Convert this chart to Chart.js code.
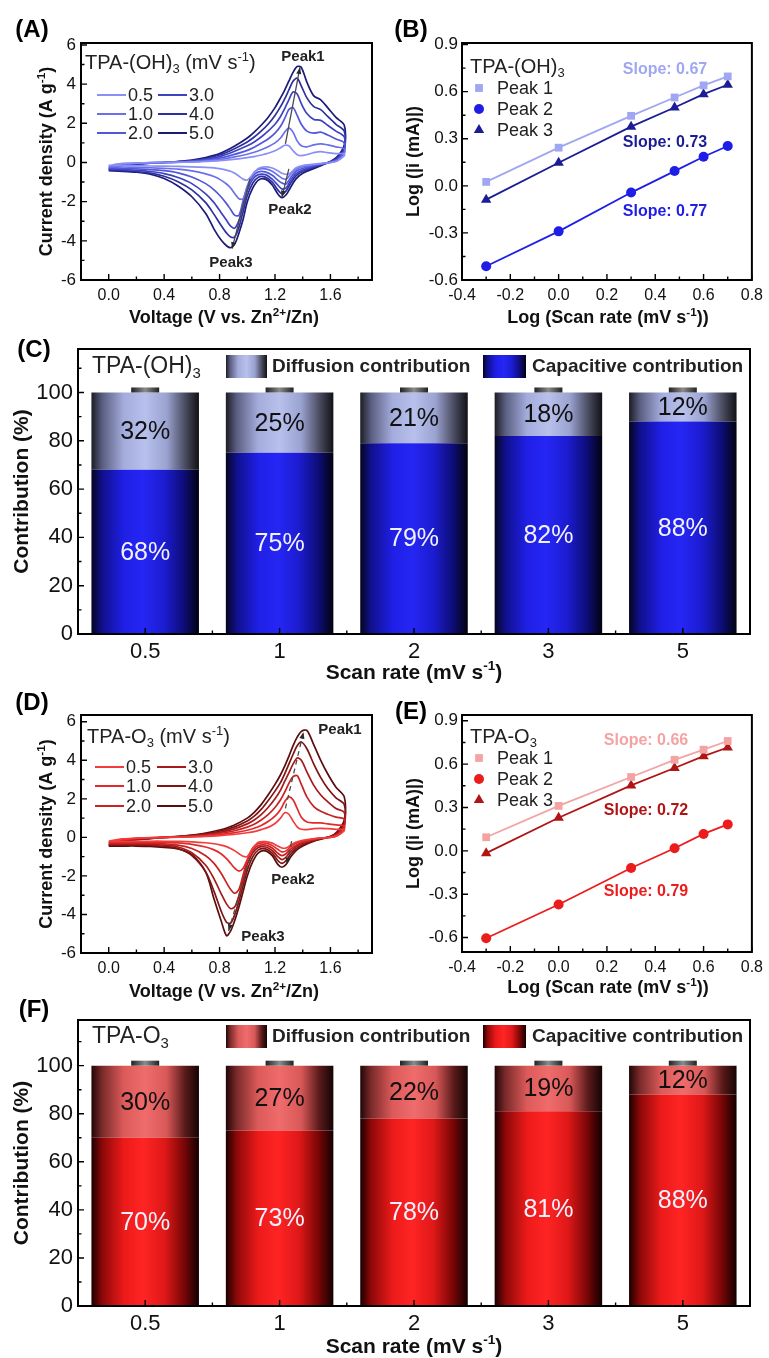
<!DOCTYPE html>
<html>
<head>
<meta charset="utf-8">
<script src="https://cdn.jsdelivr.net/npm/chart.js@4.4.1/dist/chart.umd.min.js"></script>
<style>
  html, body { margin: 0; padding: 0; background: #fff; }
  #page { position: relative; width: 769px; height: 1358px; overflow: hidden; background: #fff; }
  #page canvas { position: absolute; display: block; }
</style>
</head>
<body>
<div id="page">
  <canvas id="chartA" width="385" height="335" style="left:0;top:0"></canvas>
  <canvas id="chartB" width="384" height="335" style="left:385px;top:0"></canvas>
  <canvas id="chartC" width="769" height="365" style="left:0;top:325px"></canvas>
  <canvas id="chartD" width="385" height="315" style="left:0;top:690px"></canvas>
  <canvas id="chartE" width="384" height="315" style="left:385px;top:690px"></canvas>
  <canvas id="chartF" width="769" height="368" style="left:0;top:990px"></canvas>
</div>
<script>
(function () {
    'use strict';

    const FONT = "'Liberation Sans', Arial, Helvetica, sans-serif";

    // ---------- CV data (A, D) ----------
    const scanRateLabels = ['0.5', '1.0', '2.0', '3.0', '4.0', '5.0'];
    const vForward = [0, 0.1, 0.2, 0.3, 0.4, 0.5, 0.6, 0.7, 0.8, 0.9, 1.0, 1.05, 1.1, 1.15, 1.2,
        1.24, 1.27, 1.30, 1.33, 1.36, 1.39, 1.43, 1.48, 1.53, 1.58, 1.64, 1.7];
    const vReverse = [1.7, 1.65, 1.6, 1.5, 1.4, 1.35, 1.31, 1.28, 1.25, 1.22, 1.18, 1.13, 1.08, 1.04, 1.0,
        0.97, 0.94, 0.91, 0.88, 0.85, 0.81, 0.76, 0.7, 0.6, 0.5, 0.4, 0.3, 0.2, 0.1, 0];

    // TPA-(OH)3, anodic sweep
    const ohFwd05 = [-0.15, -0.05, -0.03, -0.01, 0, 0.01, 0.02, 0.05, 0.09, 0.16, 0.25, 0.3, 0.38, 0.47, 0.6, 0.75, 0.88, 0.85, 0.6, 0.4, 0.35, 0.4, 0.5, 0.55, 0.5, 0.45, 0.45];
    const ohFwd10 = [-0.2, -0.07, -0.04, -0.01, 0, 0.02, 0.04, 0.08, 0.15, 0.27, 0.42, 0.52, 0.65, 0.8, 1.0, 1.25, 1.55, 1.75, 1.55, 1.1, 0.85, 0.8, 0.9, 0.95, 0.9, 0.8, 0.7];
    const ohFwd20 = [-0.25, -0.09, -0.05, -0.02, 0, 0.02, 0.06, 0.12, 0.22, 0.4, 0.62, 0.78, 0.98, 1.2, 1.5, 1.85, 2.25, 2.7, 2.8, 2.4, 1.95, 1.6, 1.5, 1.55, 1.4, 1.2, 1.0];
    const ohFwd30 = [-0.3, -0.11, -0.06, -0.02, 0, 0.03, 0.08, 0.16, 0.3, 0.55, 0.85, 1.05, 1.3, 1.6, 1.95, 2.35, 2.75, 3.2, 3.6, 3.5, 3.0, 2.5, 2.2, 2.15, 1.9, 1.6, 1.3];
    const ohFwd40 = [-0.35, -0.13, -0.07, -0.03, 0, 0.04, 0.1, 0.2, 0.38, 0.68, 1.05, 1.3, 1.6, 1.95, 2.4, 2.85, 3.25, 3.7, 4.15, 4.3, 3.9, 3.3, 2.85, 2.7, 2.35, 1.95, 1.6];
    const ohFwd50 = [-0.4, -0.15, -0.08, -0.03, 0, 0.05, 0.12, 0.25, 0.45, 0.8, 1.25, 1.55, 1.9, 2.3, 2.8, 3.3, 3.7, 4.15, 4.6, 4.9, 4.85, 4.1, 3.4, 3.2, 2.8, 2.3, 1.9];
    // TPA-(OH)3, cathodic sweep
    const ohRev05 = [0.35, 0.08, 0, -0.07, -0.16, -0.28, -0.55, -0.6, -0.55, -0.42, -0.28, -0.22, -0.3, -0.6, -0.9, -0.85, -0.7, -0.55, -0.45, -0.39, -0.33, -0.28, -0.25, -0.22, -0.2, -0.19, -0.18, -0.17, -0.16, -0.15];
    const ohRev10 = [0.45, 0.1, 0, -0.1, -0.22, -0.36, -0.62, -0.85, -0.8, -0.65, -0.45, -0.33, -0.35, -0.6, -1.2, -1.85, -1.85, -1.6, -1.3, -1.1, -0.9, -0.72, -0.58, -0.43, -0.34, -0.3, -0.27, -0.25, -0.23, -0.22];
    const ohRev20 = [0.55, 0.15, 0.02, -0.12, -0.3, -0.46, -0.8, -1.1, -1.05, -0.9, -0.65, -0.48, -0.48, -0.7, -1.25, -1.95, -2.7, -2.7, -2.4, -2.1, -1.75, -1.4, -1.08, -0.74, -0.53, -0.42, -0.36, -0.33, -0.3, -0.28];
    const ohRev30 = [0.65, 0.2, 0.03, -0.16, -0.38, -0.58, -0.95, -1.3, -1.35, -1.15, -0.85, -0.62, -0.62, -0.85, -1.45, -2.2, -2.95, -3.35, -3.25, -2.95, -2.55, -2.05, -1.6, -1.08, -0.77, -0.57, -0.46, -0.4, -0.36, -0.34];
    const ohRev40 = [0.75, 0.25, 0.04, -0.2, -0.45, -0.7, -1.1, -1.45, -1.6, -1.4, -1.0, -0.75, -0.75, -1.05, -1.7, -2.5, -3.3, -3.8, -3.8, -3.6, -3.2, -2.65, -2.05, -1.4, -0.98, -0.7, -0.54, -0.46, -0.41, -0.38];
    const ohRev50 = [0.9, 0.3, 0.05, -0.25, -0.55, -0.85, -1.3, -1.65, -1.8, -1.6, -1.15, -0.85, -0.9, -1.3, -2.0, -2.9, -3.6, -4.15, -4.35, -4.25, -3.95, -3.4, -2.6, -1.75, -1.2, -0.82, -0.6, -0.5, -0.45, -0.42];

    // TPA-O3, anodic sweep
    const oFwd05 = [-0.2, -0.08, -0.04, -0.01, 0, 0.01, 0.03, 0.05, 0.09, 0.15, 0.24, 0.3, 0.4, 0.52, 0.72, 1.0, 1.28, 1.2, 0.85, 0.55, 0.42, 0.4, 0.45, 0.47, 0.45, 0.42, 0.4];
    const oFwd10 = [-0.25, -0.1, -0.05, -0.02, 0, 0.02, 0.04, 0.08, 0.14, 0.23, 0.37, 0.47, 0.62, 0.82, 1.1, 1.45, 1.85, 2.1, 1.95, 1.5, 1.05, 0.8, 0.75, 0.75, 0.7, 0.65, 0.6];
    const oFwd20 = [-0.3, -0.12, -0.07, -0.03, 0, 0.02, 0.06, 0.11, 0.2, 0.33, 0.53, 0.68, 0.9, 1.18, 1.55, 1.95, 2.35, 2.8, 3.15, 3.2, 2.75, 2.1, 1.6, 1.35, 1.2, 1.05, 0.95];
    const oFwd30 = [-0.35, -0.15, -0.08, -0.04, 0, 0.03, 0.08, 0.15, 0.26, 0.43, 0.7, 0.9, 1.18, 1.55, 2.0, 2.45, 2.9, 3.35, 3.8, 4.12, 4.0, 3.4, 2.7, 2.2, 1.85, 1.5, 1.3];
    const oFwd40 = [-0.4, -0.18, -0.1, -0.05, 0, 0.04, 0.1, 0.18, 0.32, 0.52, 0.85, 1.1, 1.45, 1.9, 2.4, 2.85, 3.3, 3.8, 4.3, 4.75, 4.95, 4.6, 3.8, 3.1, 2.55, 2.05, 1.7];
    const oFwd50 = [-0.45, -0.2, -0.12, -0.06, 0, 0.05, 0.12, 0.22, 0.38, 0.62, 1.0, 1.3, 1.7, 2.2, 2.75, 3.25, 3.7, 4.2, 4.75, 5.2, 5.5, 5.55, 4.8, 4.0, 3.3, 2.6, 2.1];
    // TPA-O3, cathodic sweep
    const oRev05 = [0.35, 0.08, 0, -0.05, -0.15, -0.25, -0.42, -0.55, -0.55, -0.45, -0.3, -0.22, -0.25, -0.55, -1.0, -0.98, -0.85, -0.7, -0.58, -0.48, -0.4, -0.33, -0.28, -0.23, -0.21, -0.2, -0.2, -0.2, -0.2, -0.2];
    const oRev10 = [0.45, 0.1, 0, -0.06, -0.2, -0.32, -0.5, -0.7, -0.75, -0.62, -0.42, -0.3, -0.32, -0.55, -1.15, -1.6, -1.75, -1.6, -1.35, -1.1, -0.85, -0.65, -0.5, -0.36, -0.29, -0.26, -0.25, -0.25, -0.25, -0.25];
    const oRev20 = [0.55, 0.15, 0.02, -0.08, -0.26, -0.42, -0.62, -0.85, -0.95, -0.82, -0.55, -0.4, -0.42, -0.65, -1.2, -1.95, -2.7, -2.9, -2.7, -2.35, -1.85, -1.35, -0.95, -0.58, -0.4, -0.34, -0.31, -0.3, -0.3, -0.3];
    const oRev30 = [0.65, 0.2, 0.03, -0.1, -0.32, -0.5, -0.75, -1.02, -1.15, -1.0, -0.68, -0.5, -0.52, -0.8, -1.4, -2.2, -3.0, -3.6, -3.7, -3.45, -2.9, -2.15, -1.45, -0.8, -0.5, -0.4, -0.37, -0.36, -0.35, -0.35];
    const oRev40 = [0.75, 0.25, 0.04, -0.12, -0.38, -0.6, -0.9, -1.2, -1.35, -1.2, -0.82, -0.6, -0.65, -1.0, -1.7, -2.5, -3.3, -4.0, -4.45, -4.4, -3.8, -2.8, -1.8, -0.95, -0.58, -0.46, -0.42, -0.41, -0.4, -0.4];
    const oRev50 = [0.9, 0.3, 0.05, -0.15, -0.45, -0.7, -1.05, -1.4, -1.55, -1.4, -0.95, -0.7, -0.8, -1.25, -2.0, -2.8, -3.6, -4.3, -4.85, -5.1, -4.3, -3.2, -1.8, -0.9, -0.6, -0.52, -0.47, -0.45, -0.45, -0.45];

    // peak-shift guide lines [V start, I start, V end, I end]
    const peakShiftOH = [[1.275, 0.95, 1.38, 4.85], [1.30, -0.33, 1.25, -1.77], [1.02, -0.83, 0.89, -4.4]];
    const peakShiftO = [[1.275, 1.5, 1.405, 5.45], [1.32, -0.2, 1.285, -1.4], [1.02, -1.05, 0.865, -4.85]];

    const cvXTicks = [0, 0.4, 0.8, 1.2, 1.6];
    const cvYTicks = [-6, -4, -2, 0, 2, 4, 6];

    // ---------- log(i) vs log(v) data (B, E) ----------
    const logRate = [-0.30, 0.00, 0.30, 0.48, 0.60, 0.70];
    const ohPeak1 = [0.025, 0.243, 0.446, 0.563, 0.64, 0.697];
    const ohPeak2 = [-0.512, -0.29, -0.043, 0.094, 0.185, 0.254];
    const ohPeak3 = [-0.088, 0.147, 0.377, 0.499, 0.584, 0.644];
    const oPeak1 = [0.094, 0.311, 0.511, 0.63, 0.70, 0.76];
    const oPeak2 = [-0.605, -0.371, -0.119, 0.018, 0.117, 0.183];
    const oPeak3 = [-0.016, 0.229, 0.453, 0.573, 0.655, 0.715];
    // slope of each peak (Peak 1, Peak 2, Peak 3)
    const slopesOH = ['0.67', '0.77', '0.73'];
    const slopesO = ['0.66', '0.79', '0.72'];
    const logXTicks = [-0.4, -0.2, 0, 0.2, 0.4, 0.6, 0.8];
    const logYTicks = [-0.6, -0.3, 0, 0.3, 0.6, 0.9];

    // ---------- contribution data (C, F) ----------
    const rateCats = ['0.5', '1', '2', '3', '5'];
    const ohCapacitive = [68, 75, 79, 82, 88];
    const ohDiffusion = [32, 25, 21, 18, 12];
    const oCapacitive = [70, 73, 78, 81, 88];
    const oDiffusion = [30, 27, 22, 19, 12];
    const pctTicks = [0, 20, 40, 60, 80, 100];

    // ---------- styles ----------
    const blueLines = ['#8a8ff5', '#6b70ea', '#5257d9', '#3d42bf', '#2c2f9f', '#1b1b78'];
    const redLines = ['#f23b3b', '#e32a2a', '#c82222', '#a51a1a', '#7e1414', '#5a0d0d'];
    const bluePeaks = ['#a0a7f2', '#1e1ee6', '#1c1c96'];
    const redPeaks = ['#f4a3a3', '#ec1c1c', '#b01414'];
    const gradOHCap = [[0, '#05051f'], [0.1, '#10108c'], [0.3, '#1f1fe6'], [0.48, '#2626f5'], [0.68, '#1c1cd0'], [0.86, '#0d0d78'], [1, '#02020f']];
    const gradOHDiff = [[0, '#1c1c24'], [0.1, '#5a5e80'], [0.3, '#a4acdc'], [0.5, '#b8c0ec'], [0.7, '#9aa2d0'], [0.87, '#4a4c60'], [1, '#111116']];
    const gradOCap = [[0, '#1a0000'], [0.1, '#8c0808'], [0.3, '#ec1a1a'], [0.48, '#ff2424'], [0.68, '#e01818'], [0.86, '#7a0606'], [1, '#120000']];
    const gradODiff = [[0, '#200606'], [0.1, '#7a2a2a'], [0.3, '#dc5a5a'], [0.5, '#f06c6c'], [0.7, '#d85858'], [0.87, '#5a1a1a'], [1, '#140404']];

    Chart.defaults.font.family = FONT;
    Chart.defaults.color = '#111';

    // ---------- helpers ----------
    function mids(ticks, min, max) {
        const step = ticks[1] - ticks[0];
        const out = [];
        for (let v = ticks[0] - step / 2; v <= max + 1e-9; v += step) {
            if (v >= min - 1e-9) out.push(v);
        }
        return out;
    }

    // text with sub/superscripts: parts = [[text, ''|'sub'|'sup'], ...]
    function rich(ctx, parts, x, y, size, weight, align, color) {
        const fonts = parts.map(p => `${weight} ${p[1] ? size * 0.65 : size}px ${FONT}`);
        let w = 0;
        parts.forEach((p, i) => { ctx.font = fonts[i]; w += ctx.measureText(p[0]).width; });
        let cx = align === 'center' ? x - w / 2 : (align === 'right' ? x - w : x);
        ctx.fillStyle = color || '#111';
        ctx.textAlign = 'left';
        ctx.textBaseline = 'middle';
        parts.forEach((p, i) => {
            ctx.font = fonts[i];
            const dy = p[1] === 'sup' ? -size * 0.3 : (p[1] === 'sub' ? size * 0.3 : 0);
            ctx.fillText(p[0], cx, y + dy);
            cx += ctx.measureText(p[0]).width;
        });
    }

    function richV(ctx, parts, x, y, size, weight) {
        ctx.save();
        ctx.translate(x, y);
        ctx.rotate(-Math.PI / 2);
        rich(ctx, parts, 0, 0, size, weight, 'center');
        ctx.restore();
    }

    function panelLabel(ctx, text, x, y) {
        ctx.font = `bold 24px ${FONT}`;
        ctx.fillStyle = '#000';
        ctx.textAlign = 'center';
        ctx.textBaseline = 'middle';
        ctx.fillText(text, x, y);
    }

    const framePlugin = {
        id: 'frame',
        afterDatasetsDraw(chart, args, o) {
            if (!o || !o.yMajor) return;
            const ctx = chart.ctx, a = chart.chartArea, xs = chart.scales.x, ys = chart.scales.y;
            ctx.save();
            ctx.strokeStyle = '#000';
            ctx.lineWidth = 1.4;
            ctx.beginPath();
            const seg = (x1, y1, x2, y2) => { ctx.moveTo(x1, y1); ctx.lineTo(x2, y2); };
            o.xMajor.forEach(v => { const p = xs.getPixelForValue(v); seg(p, a.bottom, p, a.bottom - 6); });
            o.xMinor.forEach(v => { const p = xs.getPixelForValue(v); seg(p, a.bottom, p, a.bottom - 3.5); });
            o.yMajor.forEach(v => { const p = ys.getPixelForValue(v); seg(a.left, p, a.left + 6, p); });
            o.yMinor.forEach(v => { const p = ys.getPixelForValue(v); seg(a.left, p, a.left + 3.5, p); });
            ctx.stroke();
            ctx.lineWidth = 2;
            ctx.strokeRect(a.left, a.top, a.right - a.left, a.bottom - a.top);
            ctx.restore();
        }
    };
    Chart.register(framePlugin);

    function linAxis(min, max, ticks, fmt, fit, isX, fontSize, pad) {
        return {
            type: 'linear', min, max,
            afterBuildTicks: s => { s.ticks = ticks.map(v => ({ value: v })); },
            afterFit: s => { if (isX) s.height = fit; else s.width = fit; },
            grid: { display: false, drawTicks: false },
            border: { display: false },
            ticks: { padding: pad, autoSkip: false, maxRotation: 0, color: '#111', font: { size: fontSize }, callback: fmt }
        };
    }

    function baseOptions(W, area, scales, frame) {
        return {
            responsive: false,
            animation: false,
            devicePixelRatio: 1,
            layout: { autoPadding: false, padding: { left: 0, top: area.t, right: W - area.r, bottom: 0 } },
            plugins: { legend: { display: false }, tooltip: { enabled: false }, frame },
            scales
        };
    }

    // ---------- CV panels ----------
    function drawArrow(ctx, x1, y1, x2, y2, dashed) {
        ctx.save();
        ctx.strokeStyle = '#4a4a4a';
        ctx.fillStyle = '#2a2a2a';
        ctx.lineWidth = 1.3;
        if (dashed) ctx.setLineDash([5, 4]);
        ctx.beginPath(); ctx.moveTo(x1, y1); ctx.lineTo(x2, y2); ctx.stroke();
        ctx.setLineDash([]);
        const ang = Math.atan2(y2 - y1, x2 - x1), L = 7;
        ctx.beginPath();
        ctx.moveTo(x2, y2);
        ctx.lineTo(x2 - L * Math.cos(ang - 0.38), y2 - L * Math.sin(ang - 0.38));
        ctx.lineTo(x2 - L * Math.cos(ang + 0.38), y2 - L * Math.sin(ang + 0.38));
        ctx.closePath(); ctx.fill();
        ctx.restore();
    }

    function makeCV(id, fwd, rev, colors, cfg) {
        const W = 385, H = cfg.H, area = cfg.area;
        const datasets = fwd.map((f, k) => ({
            label: scanRateLabels[k],
            data: vForward.map((v, i) => ({ x: v, y: f[i] }))
                .concat(vReverse.map((v, i) => ({ x: v, y: rev[k][i] }))),
            borderColor: colors[k],
            borderWidth: 1.7,
            showLine: true,
            pointRadius: 0,
            tension: 0.3
        }));
        const decor = {
            id: 'cvDecor',
            afterDatasetsDraw(chart) {
                const xs = chart.scales.x, ys = chart.scales.y;
                cfg.arrows.forEach(s => drawArrow(chart.ctx, xs.getPixelForValue(s[0]), ys.getPixelForValue(s[1]),
                    xs.getPixelForValue(s[2]), ys.getPixelForValue(s[3]), cfg.dashed));
            },
            afterDraw(chart) {
                const ctx = chart.ctx;
                ctx.save();
                panelLabel(ctx, cfg.panel, 32, cfg.labelY);
                rich(ctx, cfg.title, cfg.legX, cfg.legY, 20, 'normal', 'left', '#222');
                datasets.forEach((d, k) => {
                    const col = k < 3 ? 0 : 1, row = k % 3;
                    const lx = cfg.legCols[col], ly = cfg.legRows[row];
                    ctx.strokeStyle = colors[k]; ctx.lineWidth = 2;
                    ctx.beginPath(); ctx.moveTo(lx, ly); ctx.lineTo(lx + 29, ly); ctx.stroke();
                    ctx.font = `18px ${FONT}`; ctx.fillStyle = '#222';
                    ctx.textAlign = 'left'; ctx.textBaseline = 'middle';
                    ctx.fillText(d.label, lx + 31, ly + 1);
                });
                ctx.font = `bold 15px ${FONT}`; ctx.fillStyle = '#222'; ctx.textAlign = 'center';
                cfg.peakText.forEach(p => ctx.fillText(p[0], p[1], p[2]));
                richV(ctx, [['Current density (A g', ''], ['-1', 'sup'], [')', '']], 47, (area.t + area.b) / 2, 18, 'bold');
                rich(ctx, [['Voltage (V vs. Zn', ''], ['2+', 'sup'], ['/Zn)', '']], 224, cfg.xTitleY, 18, 'bold', 'center');
                ctx.restore();
            }
        };
        new Chart(document.getElementById(id), {
            type: 'scatter',
            data: { datasets },
            options: baseOptions(W, area, {
                x: linAxis(-0.2, 1.9, cvXTicks, v => v.toFixed(1), H - area.b, true, 16, 6),
                y: linAxis(-6, cfg.yMax, cvYTicks, v => String(v), area.l, false, 17, 5)
            }, {
                xMajor: cvXTicks, xMinor: mids(cvXTicks, -0.2, 1.9),
                yMajor: cvYTicks, yMinor: mids(cvYTicks, -6, cfg.yMax)
            }),
            plugins: [decor]
        });
    }

    makeCV('chartA', [ohFwd05, ohFwd10, ohFwd20, ohFwd30, ohFwd40, ohFwd50],
        [ohRev05, ohRev10, ohRev20, ohRev30, ohRev40, ohRev50], blueLines, {
            H: 335, area: { l: 81, t: 43, r: 372, b: 280 }, yMax: 6.1, panel: '(A)', labelY: 30,
            title: [['TPA-(OH)', ''], ['3', 'sub'], [' (mV s', ''], ['-1', 'sup'], [')', '']],
            legX: 85, legY: 63, legCols: [97, 158], legRows: [95, 114, 133],
            arrows: peakShiftOH, dashed: false, xTitleY: 318,
            peakText: [['Peak1', 303, 57], ['Peak2', 290, 210], ['Peak3', 231, 263]]
        });

    makeCV('chartD', [oFwd05, oFwd10, oFwd20, oFwd30, oFwd40, oFwd50],
        [oRev05, oRev10, oRev20, oRev30, oRev40, oRev50], redLines, {
            H: 315, area: { l: 81, t: 25, r: 372, b: 263 }, yMax: 6.35, panel: '(D)', labelY: 13,
            title: [['TPA-O', ''], ['3', 'sub'], [' (mV s', ''], ['-1', 'sup'], [')', '']],
            legX: 87, legY: 47, legCols: [95, 157], legRows: [77, 96, 116],
            arrows: peakShiftO, dashed: true, xTitleY: 302,
            peakText: [['Peak1', 340, 40], ['Peak2', 293, 190], ['Peak3', 263, 247]]
        });

    // ---------- log-log panels ----------
    function makeLog(id, peaks, colors, slopes, cfg) {
        const W = 384, H = cfg.H, area = cfg.area;
        const styles = ['rect', 'circle', 'triangle'];
        const radii = [5.5, 5, 6];
        const datasets = peaks.map((p, k) => ({
            label: 'Peak ' + (k + 1),
            data: logRate.map((x, i) => ({ x, y: p[i] })),
            showLine: true,
            borderColor: colors[k],
            backgroundColor: colors[k],
            borderWidth: 1.8,
            pointStyle: styles[k],
            pointRadius: radii[k],
            pointBorderWidth: 0
        }));
        const decor = {
            id: 'logDecor',
            afterDraw(chart) {
                const ctx = chart.ctx;
                ctx.save();
                panelLabel(ctx, cfg.panel, 26, cfg.labelY);
                rich(ctx, cfg.title, 85, cfg.legRows[0] - 21, 20, 'normal', 'left', '#222');
                datasets.forEach((d, k) => {
                    ctx.fillStyle = colors[k];
                    Chart.helpers.drawPoint(ctx, { pointStyle: styles[k], radius: radii[k], rotation: 0, borderWidth: 0 }, 94, cfg.legRows[k]);
                    ctx.font = `18px ${FONT}`; ctx.fillStyle = '#222';
                    ctx.textAlign = 'left'; ctx.textBaseline = 'middle';
                    ctx.fillText(d.label, 112, cfg.legRows[k] + 1);
                });
                ctx.font = `bold 16px ${FONT}`; ctx.textAlign = 'center';
                cfg.slopePos.forEach((p, k) => { ctx.fillStyle = colors[k]; ctx.fillText('Slope: ' + slopes[k], p[0], p[1]); });
                richV(ctx, [['Log (|i (mA)|)', '']], 29, (area.t + area.b) / 2, 18, 'bold');
                rich(ctx, [['Log (Scan rate (mV s', ''], ['-1', 'sup'], ['))', '']], 223, cfg.xTitleY, 18, 'bold', 'center');
                ctx.restore();
            }
        };
        new Chart(document.getElementById(id), {
            type: 'scatter',
            data: { datasets },
            options: baseOptions(W, area, {
                x: linAxis(-0.4, 0.8, logXTicks, v => v.toFixed(1), H - area.b, true, 16, 6),
                y: linAxis(cfg.yMin, cfg.yMax, logYTicks, v => v.toFixed(1), area.l, false, 17, 4)
            }, {
                xMajor: logXTicks, xMinor: mids(logXTicks, -0.4, 0.8),
                yMajor: logYTicks, yMinor: mids(logYTicks, cfg.yMin, cfg.yMax)
            }),
            plugins: [decor]
        });
    }

    makeLog('chartB', [ohPeak1, ohPeak2, ohPeak3], bluePeaks, slopesOH, {
        H: 335, area: { l: 77, t: 43, r: 370, b: 280 }, yMin: -0.6, yMax: 0.91, panel: '(B)', labelY: 30,
        title: [['TPA-(OH)', ''], ['3', 'sub']], legRows: [88, 109, 130], xTitleY: 318,
        slopePos: [[280, 70], [280, 212], [280, 143]]
    });

    makeLog('chartE', [oPeak1, oPeak2, oPeak3], redPeaks, slopesO, {
        H: 315, area: { l: 77, t: 25, r: 370, b: 262 }, yMin: -0.7, yMax: 0.94, panel: '(E)', labelY: 22,
        title: [['TPA-O', ''], ['3', 'sub']], legRows: [68, 89, 110], xTitleY: 298,
        slopePos: [[261, 51], [261, 202], [261, 121]]
    });

    // ---------- contribution bar panels ----------
    function gradFill(ctx, stops, x0, x1) {
        const g = ctx.createLinearGradient(x0, 0, x1, 0);
        stops.forEach(s => g.addColorStop(s[0], s[1]));
        return g;
    }

    function barFill(stops) {
        return c => {
            const chart = c.chart, a = chart.chartArea;
            if (!a || c.type !== 'data' || !chart.scales.x) return stops[3][1];
            const cx = chart.scales.x.getPixelForValue(c.dataIndex);
            const hw = (a.right - a.left) / rateCats.length * 0.8 / 2;
            return gradFill(chart.ctx, stops, cx - hw, cx + hw);
        };
    }

    function makeBars(id, cap, diff, gCap, gDiff, cfg) {
        const W = 769, H = cfg.H, area = cfg.area;
        const decor = {
            id: 'barDecor',
            afterDatasetsDraw(chart) {
                const ctx = chart.ctx;
                const m0 = chart.getDatasetMeta(0), m1 = chart.getDatasetMeta(1);
                ctx.save();
                m1.data.forEach((bar, i) => {
                    ctx.fillStyle = gradFill(ctx, [[0, '#222'], [0.5, '#8c8c8c'], [1, '#222']], bar.x - 14, bar.x + 14);
                    ctx.fillRect(bar.x - 14, bar.y - 5, 28, 5);
                    ctx.font = `25px ${FONT}`;
                    ctx.textAlign = 'center'; ctx.textBaseline = 'middle';
                    ctx.fillStyle = '#111';
                    ctx.fillText(diff[i] + '%', bar.x, (bar.y + bar.base) / 2 + 1);
                    const low = m0.data[i];
                    ctx.fillStyle = '#f2f2ff';
                    ctx.fillText(cap[i] + '%', low.x, (low.y + low.base) / 2 + 1);
                });
                ctx.restore();
            },
            afterDraw(chart) {
                const ctx = chart.ctx, a = chart.chartArea;
                ctx.save();
                panelLabel(ctx, cfg.panel, 34, cfg.labelY);
                rich(ctx, cfg.title, 92, cfg.legY, 23, 'normal', 'left', '#222');
                ctx.fillStyle = gradFill(ctx, gDiff, 226, 267);
                ctx.fillRect(226, cfg.legY - 12, 41, 23);
                ctx.fillStyle = gradFill(ctx, gCap, 483, 526);
                ctx.fillRect(483, cfg.legY - 12, 43, 23);
                ctx.font = `bold 19px ${FONT}`; ctx.fillStyle = '#222';
                ctx.textAlign = 'left'; ctx.textBaseline = 'middle';
                ctx.fillText('Diffusion contribution', 272, cfg.legY);
                ctx.fillText('Capacitive contribution', 532, cfg.legY);
                richV(ctx, [['Contribution (%)', '']], 22, (a.top + a.bottom) / 2, 21, 'bold');
                rich(ctx, [['Scan rate (mV s', ''], ['-1', 'sup'], [')', '']], (a.left + a.right) / 2, cfg.xTitleY, 21, 'bold', 'center');
                ctx.restore();
            }
        };
        const catIdx = rateCats.map((c, i) => i);
        new Chart(document.getElementById(id), {
            type: 'bar',
            data: {
                labels: rateCats,
                datasets: [
                    { label: 'Capacitive contribution', data: cap, backgroundColor: barFill(gCap), borderWidth: 0 },
                    { label: 'Diffusion contribution', data: diff, backgroundColor: barFill(gDiff), borderWidth: 0 }
                ]
            },
            options: Object.assign(baseOptions(W, area, {
                x: {
                    stacked: true,
                    afterFit: s => { s.height = H - area.b; },
                    grid: { display: false, drawTicks: false },
                    border: { display: false },
                    ticks: { padding: 5, color: '#111', font: { size: 22 } }
                },
                y: Object.assign(linAxis(0, cfg.yMax, pctTicks, v => String(v), area.l, false, 22, 5), { stacked: true })
            }, {
                xMajor: catIdx, xMinor: catIdx.slice(1).map(i => i - 0.5),
                yMajor: pctTicks, yMinor: mids(pctTicks, 0, cfg.yMax)
            }), {
                datasets: { bar: { categoryPercentage: 1, barPercentage: 0.8 } }
            }),
            plugins: [decor]
        });
    }

    makeBars('chartC', ohCapacitive, ohDiffusion, gradOHCap, gradOHDiff, {
        H: 365, area: { l: 78, t: 24, r: 750, b: 309 }, yMax: 118, panel: '(C)', labelY: 25,
        title: [['TPA-(OH)', ''], ['3', 'sub']], legY: 42, xTitleY: 348
    });

    makeBars('chartF', oCapacitive, oDiffusion, gradOCap, gradODiff, {
        H: 368, area: { l: 78, t: 30, r: 750, b: 316 }, yMax: 119, panel: '(F)', labelY: 20,
        title: [['TPA-O', ''], ['3', 'sub']], legY: 47, xTitleY: 357
    });
})();
</script>
</body>
</html>
